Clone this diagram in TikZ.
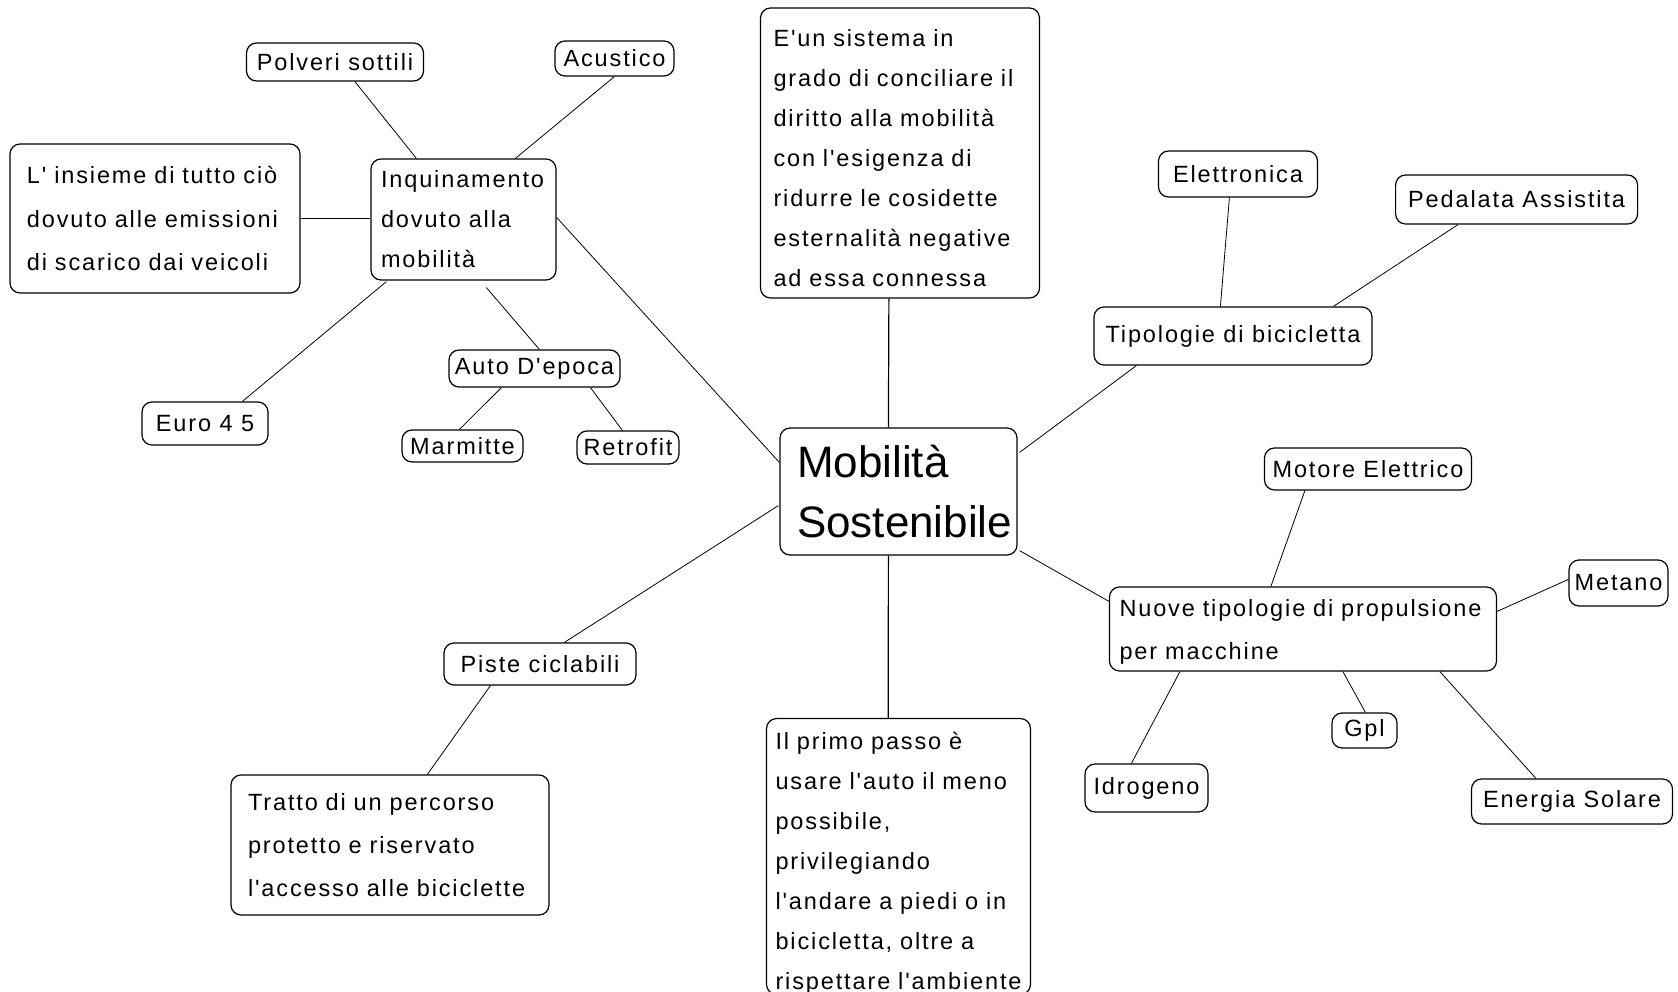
\documentclass[tikz,border=0pt]{standalone}
\usepackage{fontspec}
\newfontfamily\smallf[LetterSpace=8]{Liberation Sans}
\newfontfamily\bigf{Liberation Sans}
\usetikzlibrary{calc}
\begin{document}
\begin{tikzpicture}[x=1pt,y=-1pt,
  box/.style={draw, line width=1.2pt, rounded corners=10pt, inner sep=0pt,
    font=\smallf\fontsize{23.5}{40}\selectfont},
  multi/.style={box, align=left},
  ln/.style={line width=0.8pt},
  lnb/.style={line width=1.2pt}]
\clip (0,0) rectangle (1678,992);
\fill[white] (0,0) rectangle (1678,992);

% nodes
\node[box, minimum width=177pt, minimum height=38pt] (polveri) at (335,62) {Polveri sottili};
\node[box, minimum width=119pt, minimum height=35pt] (acustico) at (614.5,58.5) {Acustico};
\node[multi, minimum width=290pt, minimum height=149pt, text width=256pt,
  font=\smallf\fontsize{23.5}{43.5}\selectfont] (insieme) at (155,218.5)
  {L' insieme di tutto ciò\\dovuto alle emissioni\\di scarico dai veicoli};
\node[multi, minimum width=185pt, minimum height=121pt, text width=165pt] (inquin) at (463.5,219.5)
  {Inquinamento\\dovuto alla\\mobilità};
\node[box, minimum width=171pt, minimum height=37pt] (auto) at (534.5,368.5) {Auto D'epoca};
\node[box, minimum width=126pt, minimum height=43pt] (euro) at (205,423.5) {Euro 4 5};
\node[box, minimum width=121pt, minimum height=32pt] (marmitte) at (462.5,446) {Marmitte};
\node[box, minimum width=102pt, minimum height=33pt] (retrofit) at (628,447.5) {Retrofit};
\node[multi, minimum width=279pt, minimum height=290pt, text width=253pt] (eun) at (900,153)
  {\rule{0pt}{28pt}E'un sistema in\\grado di conciliare il\\diritto alla mobilità\\con l'esigenza di\\ridurre le cosidette\\esternalità negative\\ad essa connessa};
\node[box, minimum width=159pt, minimum height=46pt] (elettronica) at (1238,174) {Elettronica};
\node[box, minimum width=242pt, minimum height=49pt] (pedalata) at (1516.6,199.5) {Pedalata Assistita};
\node[box, minimum width=278pt, minimum height=58pt] (tipologie) at (1233,336) {Tipologie di bicicletta};
\node[multi, minimum width=237pt, minimum height=127pt, text width=203pt,
  font=\bigf\fontsize{44}{60}\selectfont] (mobilita) at (898.5,491.5)
  {Mobilità\\Sostenibile};
\node[box, minimum width=207pt, minimum height=42pt] (motore) at (1368,469) {Motore Elettrico};
\node[box, minimum width=99pt, minimum height=46pt] (metano) at (1618.5,583) {Metano};
\node[multi, minimum width=387pt, minimum height=84pt, text width=367pt,
  font=\smallf\fontsize{23.5}{43}\selectfont] (nuove) at (1303,629)
  {\rule{0pt}{23pt}Nuove tipologie di propulsione\\per macchine};
\node[box, minimum width=65pt, minimum height=35pt] (gpl) at (1364.5,730.5) {Gpl};
\node[box, minimum width=123pt, minimum height=48pt] (idrogeno) at (1146.5,788) {Idrogeno};
\node[box, minimum width=201pt, minimum height=45pt] (energia) at (1572,801.5) {Energia Solare};
\node[multi, minimum width=264pt, minimum height=275pt, text width=246pt] (ilprimo) at (898.5,856.5)
  {\rule{0pt}{31pt}Il primo passo è\\usare l'auto il meno\\possibile,\\privilegiando\\l'andare a piedi o in\\bicicletta, oltre a\\rispettare l'ambiente};
\node[box, minimum width=192pt, minimum height=42pt] (piste) at (540,664) {Piste ciclabili};
\node[multi, minimum width=318pt, minimum height=140pt, text width=284pt,
  font=\smallf\fontsize{23.5}{43}\selectfont] (tratto) at (390,845)
  {Tratto di un percorso\\protetto e riservato\\l'accesso alle biciclette};

% connectors
\draw[ln] ($(polveri.south west)+(109,0)$) -- ($(inquin.north west)+(46,0)$);
\draw[ln] ($(acustico.south west)+(60,0)$) -- ($(inquin.north west)+(145,0)$);
\draw[lnb] (insieme.east) -- (insieme.east -| inquin.west);
\draw[ln] ($(euro.north west)+(101,0)$) -- ($(inquin.south west)+(16,1)$);
\draw[ln] ($(inquin.south west)+(116,7)$) -- ($(auto.north west)+(91,0)$);
\draw[ln] ($(auto.south west)+(53,0)$) -- ($(marmitte.north west)+(58,0)$);
\draw[ln] ($(auto.south west)+(142,0)$) -- ($(retrofit.north west)+(46,0)$);
\draw[ln] ($(inquin.north east)+(0,59)$) -- ($(mobilita.north west)+(0,35)$);
\draw[lnb] ($(eun.south west)+(129,0)$) -- ($(mobilita.north west)+(109,0)$);
\draw[ln] ($(mobilita.north east)+(2,25)$) -- ($(tipologie.south west)+(43,0)$);
\draw[ln] ($(elettronica.south west)+(71.5,0)$) -- ($(tipologie.north west)+(127,0)$);
\draw[ln] ($(pedalata.south west)+(63,0)$) -- ($(tipologie.north west)+(240,0)$);
\draw[ln] ($(mobilita.south east)+(2,-5)$) -- ($(nuove.north west)+(0,15)$);
\draw[ln] ($(motore.south west)+(41,0)$) -- ($(nuove.north west)+(162,0)$);
\draw[ln] ($(metano.north west)+(0,20)$) -- ($(nuove.north east)+(0,25)$);
\draw[ln] ($(nuove.south west)+(234,0)$) -- ($(gpl.north west)+(34,0)$);
\draw[ln] ($(nuove.south west)+(71,0)$) -- ($(idrogeno.north west)+(47,0)$);
\draw[ln] ($(nuove.south west)+(331,0)$) -- ($(energia.north west)+(65,0)$);
\draw[lnb] ($(mobilita.south west)+(109,0)$) -- ($(ilprimo.north west)+(122.3,0)$);
\draw[ln] ($(mobilita.south west)+(-1,-50)$) -- ($(piste.north west)+(121,0)$);
\draw[ln] ($(piste.south west)+(47,0)$) -- ($(tratto.north west)+(197,0)$);
\end{tikzpicture}
\end{document}
